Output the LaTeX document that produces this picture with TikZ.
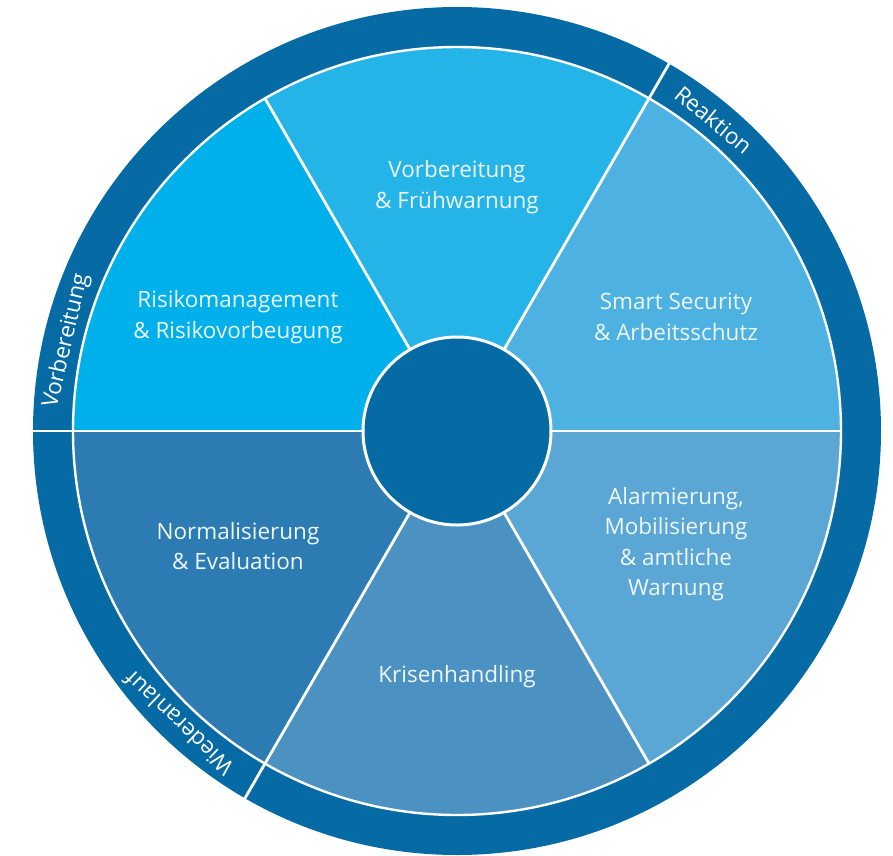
\documentclass[tikz,border=0pt]{standalone}
\usepackage{fontspec}
\setmainfont{Open Sans}
\definecolor{ringc}{HTML}{066BA4}
\definecolor{segTop}{HTML}{25B4E8}
\definecolor{segUL}{HTML}{00B0EB}
\definecolor{segUR}{HTML}{4DB1E1}
\definecolor{segLR}{HTML}{5AA6D5}
\definecolor{segBot}{HTML}{4B92C3}
\definecolor{segLL}{HTML}{2C7BB2}
\definecolor{txtc}{HTML}{EEF7FC}
\tikzset{
  sep/.style={draw=white, line width=2.8pt},
  seglabel/.style={text=txtc, align=center, font=\fontsize{22.5}{30.5}\selectfont, inner sep=0pt},
  ringlabel/.style={text=white, font=\fontsize{22.5}{26}\selectfont, inner sep=0pt, anchor=base}
}
\begin{document}
\begin{tikzpicture}[x=1pt,y=1pt]
\useasboundingbox (-457,-424) rectangle (436,431);
% outer ring
\fill[ringc] (0,0) circle[radius=424pt];
% segments
\foreach \a/\c in {0/segUR,60/segTop,120/segUL,180/segLL,240/segBot,300/segLR}
  \fill[\c] (0,0) -- (\a:384pt) arc[start angle=\a, end angle=\a+60, radius=384pt] -- cycle;
% separators
\foreach \a in {0,60,...,300}
  \draw[sep] (0,0) -- (\a:384pt);
\draw[sep, line width=2.4pt] (0,0) circle[radius=384pt];
\foreach \a in {60,180,240}
  \draw[sep] (\a:383pt) -- (\a:426pt);
% centre
\fill[ringc] (0,0) circle[radius=94pt];
\draw[draw=white, line width=3pt] (0,0) circle[radius=94pt];
\node[ringc, inner sep=0pt] (hub) at (0,0) {};
% segment labels
\node[seglabel] (vf) at (0,244) {Vorbereitung\\\& Frühwarnung};
\node[seglabel] (sa) at (219,114) {Smart Security\\\& Arbeitsschutz};
\node[seglabel] (rr) at (-219,114) {Risikomanagement\\\& Risikovorbeugung};
\node[seglabel] (ne) at (-219,-115) {Normalisierung\\\& Evaluation};
\node[seglabel] (kh) at (0,-246) {Krisenhandling};
\node[seglabel] (am) at (219,-113) {Alarmierung,\\Mobilisierung\\\& amtliche\\Warnung};
% ring labels
\node[ringlabel, rotate=-39.5] (rk) at (50.5:395pt) {Reaktion};
\node[ringlabel, rotate=77] (vb) at (167:395pt) {Vorbereitung};
\node[ringlabel, rotate=136.5] (wa) at (226.5:395pt) {Wiederanlauf};
\end{tikzpicture}
\end{document}
